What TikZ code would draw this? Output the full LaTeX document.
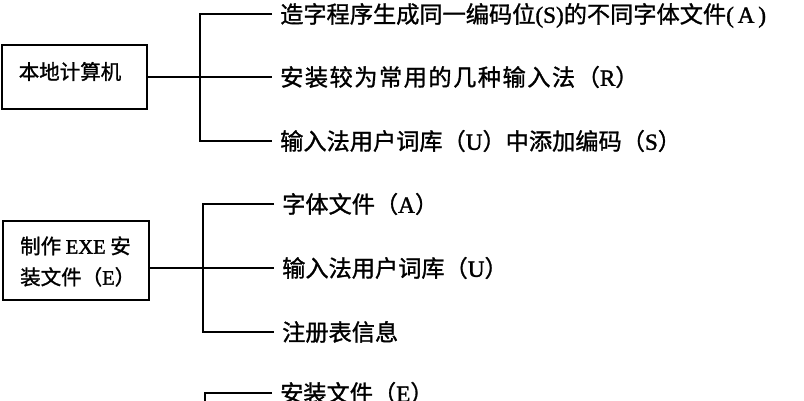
\documentclass[tikz,border=0pt]{standalone}
\usepackage{fontspec}
\setmainfont{Noto Sans CJK SC}[RawFeature={embolden=1.2}]
\newfontfamily\lat{Liberation Serif}[RawFeature={embolden=1.5}]
\newcommand{\Lat}[1]{{\lat #1}}
\tikzset{
  box/.style={draw, line width=1.6pt, inner sep=0pt},
  boxtext/.style={inner sep=0pt, align=left, font=\fontsize{20.5}{31}\selectfont},
  leaf/.style={anchor=west, inner xsep=8pt, inner ysep=0pt, text height=20.4pt, text depth=2.8pt, font=\fontsize{23.2}{28}\selectfont},
  wide/.style={font=\fontsize{23.2}{28}\selectfont\addfontfeature{LetterSpace=6.5}},
  link/.style={line width=1.6pt}
}

\begin{document}
\begin{tikzpicture}[x=1pt, y=-1pt]
\useasboundingbox (0,0) rectangle (804,400);
\clip (0,0) rectangle (804,400);

\node[box, minimum width=145, minimum height=64] (pc) at (74.5,77) {};
\node[boxtext] (pctext) at (70,71.5) {本地计算机};
\coordinate (j1) at (200,77);
\node[leaf] (a1) at (272,14) {造字程序生成同一编码位\Lat{(S)}的不同字体文件\Lat{(\,A\,)}};
\node[leaf, wide] (a2) at (272,77) {安装较为常用的几种输入法（\Lat{R}）};
\node[leaf] (a3) at (272,141) {输入法用户词库（\Lat{U}）中添加编码（\Lat{S}）};
\draw[link] (a1.west) -| (j1) |- (a3.west);
\draw[link] (pc.east) -- (a2.west);

\node[box, minimum width=146, minimum height=79] (exe) at (76,260.5) {};
\node[boxtext, anchor=west] (exetext) at (20,261.5) {制作 \Lat{EXE} 安\\装文件（\Lat{E}）};
\coordinate (j2) at (203,268);
\node[leaf] (b1) at (274,204) {字体文件（\Lat{A}）};
\node[leaf] (b2) at (274,268) {输入法用户词库（\Lat{U}）};
\node[leaf] (b3) at (274,332) {注册表信息};
\draw[link] (b1.west) -| (j2) |- (b3.west);
\draw[link] (j2 -| exe.east) -- (b2.west);

% third group, cut off at the lower edge
\coordinate (j3) at (205,440);
\node[leaf] (c1) at (272,393) {安装文件（\Lat{E}）};
\draw[link] (c1.west) -| (j3);
\end{tikzpicture}
\end{document}
